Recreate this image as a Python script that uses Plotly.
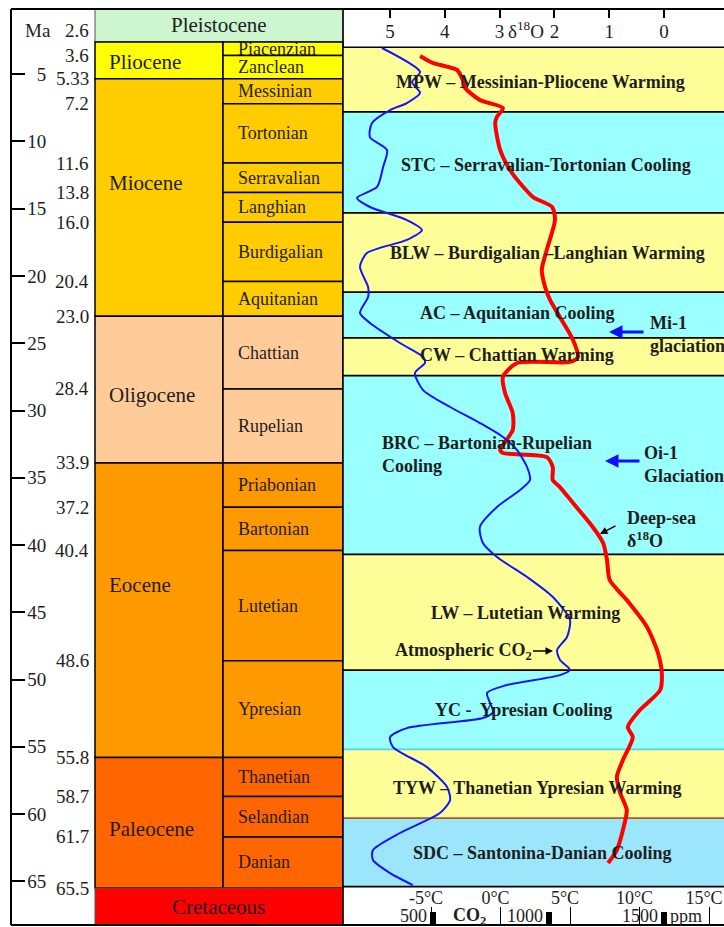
import plotly.graph_objects as go

W, H = 724, 927
SERIF = "Liberation Serif"
INK = "#1e1e1e"

# ---------------- geologic time scale (Ma) ----------------
epoch_names = ["Pliocene", "Miocene", "Oligocene", "Eocene", "Paleocene"]
epoch_top = [2.6, 5.33, 23.0, 33.9, 55.8]
epoch_base = [5.33, 23.0, 33.9, 55.8, 65.5]

stage_names = ["Piacenzian", "Zanclean", "Messinian", "Tortonian", "Serravalian",
               "Langhian", "Burdigalian", "Aquitanian", "Chattian", "Rupelian",
               "Priabonian", "Bartonian", "Lutetian", "Ypresian", "Thanetian",
               "Selandian", "Danian"]
stage_top = [2.6, 3.6, 5.33, 7.2, 11.6, 13.8, 16.0, 20.4, 23.0, 28.4,
             33.9, 37.2, 40.4, 48.6, 55.8, 58.7, 61.7]
stage_base = [3.6, 5.33, 7.2, 11.6, 13.8, 16.0, 20.4, 23.0, 28.4, 33.9,
              37.2, 40.4, 48.6, 55.8, 58.7, 61.7, 65.5]
stage_epoch = (["Pliocene"] * 2 + ["Miocene"] * 6 + ["Oligocene"] * 2
               + ["Eocene"] * 4 + ["Paleocene"] * 3)

pleistocene_base = 2.6
cretaceous_top = 65.5

boundary_labels = ["2.6", "3.6", "5.33", "7.2", "11.6", "13.8", "16.0", "20.4",
                   "23.0", "28.4", "33.9", "37.2", "40.4", "48.6", "55.8",
                   "58.7", "61.7", "65.5"]
ma_ticks = [5, 10, 15, 20, 25, 30, 35, 40, 45, 50, 55, 60, 65]

# ---------------- climate episodes ----------------
band_titles = ["MPW – Messinian-Pliocene Warming",
               "STC – Serravalian-Tortonian Cooling",
               "BLW – Burdigalian –Langhian Warming",
               "AC – Aquitanian Cooling",
               "CW – Chattian Warming",
               "BRC – Bartonian-Rupelian<br>Cooling",
               "LW – Lutetian Warming",
               "YC -  Ypresian Cooling",
               "TYW – Thanetian Ypresian Warming",
               "SDC – Santonina-Danian Cooling"]
band_top = [3.0, 7.8, 15.3, 21.2, 24.6, 27.4, 40.7, 49.3, 55.2, 60.3]
band_base = [7.8, 15.3, 21.2, 24.6, 27.4, 40.7, 49.3, 55.2, 60.3, 65.4]
band_kind = ["warm", "cool", "warm", "cool", "warm", "cool", "warm", "cool", "warm", "cool2"]

# ---------------- proxy curves ----------------
d18o_age = [3.64, 4.16, 4.68, 5.43, 6.02, 6.91, 7.51, 8.18, 8.62, 10.63, 12.12,
            13.09, 14.13, 14.87, 15.84, 18.07, 19.55, 20.82, 21.78, 23.05, 24.76,
            26.02, 26.39, 26.47, 27.51, 28.70, 30.19, 31.45, 32.94, 33.16, 33.46,
            34.20, 35.17, 35.69, 36.88, 38.66, 39.85, 41.12, 42.60, 44.09, 46.10,
            48.03, 49.52, 50.78, 52.27, 53.53, 54.28, 55.99, 57.25, 58.44, 59.70,
            61.19, 62.68, 63.64]
d18o_value = [4.45, 4.22, 3.78, 3.67, 3.63, 3.36, 2.94, 3.05, 3.08, 2.99, 2.81,
              2.63, 2.39, 2.04, 1.99, 2.14, 2.23, 2.17, 2.08, 1.90, 1.66,
              1.57, 1.72, 2.68, 2.94, 2.90, 2.76, 2.76, 2.99, 2.94, 2.14,
              2.03, 2.03, 1.90, 1.66, 1.30, 1.11, 1.04, 0.99, 0.68, 0.31,
              0.11, 0.04, 0.07, 0.44, 0.66, 0.57, 0.75, 0.86, 0.80, 0.68,
              0.75, 0.86, 1.02]

co2_age = [3.05, 4.83, 5.58, 6.39, 7.14, 7.66, 8.62, 9.67, 10.63, 11.90, 13.38,
           14.20, 14.87, 15.84, 16.58, 17.32, 18.29, 19.33, 20.82, 21.56, 22.75,
           23.49, 24.98, 26.02, 26.47, 27.21, 28.48, 29.74, 30.93, 31.97, 32.94,
           34.20, 35.17, 35.91, 37.17, 38.66, 39.85, 40.89, 42.38, 43.87, 45.58,
           46.84, 47.81, 48.55, 49.29, 49.67, 50.41, 51.00, 52.42, 52.86, 53.61,
           54.28, 55.02, 56.51, 58.00, 58.96, 59.93, 61.41, 62.68, 63.42, 64.39,
           65.28]
co2_ppm = [279, 444, 409, 444, 387, 314, 236, 227, 301, 284, 258,
           171, 227, 387, 452, 387, 214, 184, 219, 219, 184,
           227, 357, 457, 465, 422, 457, 574, 703, 803, 864,
           907, 920, 877, 777, 703, 716, 777, 907, 1019, 1093,
           1080, 1037, 1050, 1093, 1050, 820, 734, 760, 716, 387,
           314, 327, 474, 561, 574, 530, 357, 240, 240, 314,
           413]

d18o_ticks = [5, 4, 3, 2, 1, 0]
temp_ticks = [-5, 0, 5, 10, 15]
temp_labels = ["-5°C", "0°C", "5°C", "10°C", "15°C"]
co2_ticks = [500, 1000, 1500]
co2_labels = ["500", "1000", "1500"]

# ---------------- styling ----------------
EPOCH_COLOR = {"Pliocene": "#ffff00", "Miocene": "#ffcc00", "Oligocene": "#ffcc99",
               "Eocene": "#ff9900", "Paleocene": "#ff6600"}
BAND_COLOR = {"warm": "#ffff99", "cool": "#99ffff", "cool2": "#9ce6fb"}
# separator colours, one per band base
BAND_EDGE = ["black"] * 7 + ["#4fd6ee", "#b4562c", "black"]

Y_TOP, Y_BOT = 0.15, 68.25          # visible age range of the column
PLOT_TOP_PX, PLOT_BOT_PX = 9, 925


def fx(px):
    return px / W


def fy(py):
    return (PLOT_BOT_PX - py) / (PLOT_BOT_PX - PLOT_TOP_PX)


def ma_at(py):
    return Y_TOP + (py - PLOT_TOP_PX) * (Y_BOT - Y_TOP) / (PLOT_BOT_PX - PLOT_TOP_PX)


X_AXIS = fx(11)
COL_L, COL_M, COL_R = fx(95), fx(223), fx(343)

fig = go.Figure()

fig.add_trace(go.Scatter(
    x=d18o_value, y=d18o_age, xaxis="x2", yaxis="y", mode="lines",
    line=dict(color="#ff0000", width=4, shape="spline", smoothing=0.7),
    hoverinfo="skip", showlegend=False))
fig.add_trace(go.Scatter(
    x=co2_ppm, y=co2_age, xaxis="x3", yaxis="y", mode="lines",
    line=dict(color="#1414ff", width=2, shape="spline", smoothing=0.7),
    hoverinfo="skip", showlegend=False))
# empty trace so the temperature scale gets its own drawn axis
fig.add_trace(go.Scatter(x=[], y=[], xaxis="x4", yaxis="y", mode="lines",
                         hoverinfo="skip", showlegend=False))

shapes = []


def box(x0, x1, y0, y1, fill, edge="black", width=1.5):
    shapes.append(dict(type="rect", xref="paper", yref="y", x0=x0, x1=x1,
                       y0=y0, y1=y1, fillcolor=fill,
                       line=dict(color=edge, width=width), layer="below"))


# time-scale column
box(COL_L, COL_R, Y_TOP, pleistocene_base, "#ccf5d0", edge="#555", width=1)
for name, t, b in zip(epoch_names, epoch_top, epoch_base):
    box(COL_L, COL_M, t, b, EPOCH_COLOR[name])
for ep, t, b in zip(stage_epoch, stage_top, stage_base):
    box(COL_M, COL_R, t, b, EPOCH_COLOR[ep])
box(COL_L, COL_R, cretaceous_top, Y_BOT, "#ff0000", edge="#555", width=1)

# climate episode bands
for kind, t, b in zip(band_kind, band_top, band_base):
    shapes.append(dict(type="rect", xref="paper", yref="y", x0=COL_R, x1=1.0,
                       y0=t, y1=b, fillcolor=BAND_COLOR[kind],
                       line=dict(width=0), layer="below"))
shapes.append(dict(type="line", xref="paper", yref="y", x0=COL_R, x1=1.0,
                   y0=band_top[0], y1=band_top[0],
                   line=dict(color="black", width=1.5), layer="below"))
for edge, b in zip(BAND_EDGE, band_base):
    shapes.append(dict(type="line", xref="paper", yref="y", x0=COL_R, x1=1.0,
                       y0=b, y1=b, line=dict(color=edge, width=1.8), layer="below"))

# frame
for y in (0, 1):
    shapes.append(dict(type="line", xref="paper", yref="paper", x0=X_AXIS, x1=1.0,
                       y0=y, y1=y, line=dict(color="black", width=2), layer="above"))
shapes.append(dict(type="line", xref="paper", yref="paper", x0=COL_R, x1=COL_R,
                   y0=0, y1=1, line=dict(color="black", width=1.5), layer="above"))

ann = []


def text(x, y, s, size=19, xanchor="center", yref="y", bold=False, align="center", **kw):
    if bold:
        s = "<b>" + s + "</b>"
    ann.append(dict(x=x, y=y, xref="paper", yref=yref, text=s, showarrow=False,
                    xanchor=xanchor, yanchor="middle", align=align,
                    font=dict(family=SERIF, size=size, color=INK), **kw))


# header of the age column
text(fx(38), fy(30), "Ma", yref="paper")
for lab in boundary_labels:
    v = float(lab)
    if lab == "2.6":
        text(fx(91), fy(30), lab, xanchor="right", yref="paper")
    else:
        text(fx(91), v, lab, xanchor="right")

text((COL_L + COL_R) / 2, (Y_TOP + pleistocene_base) / 2, "Pleistocene", size=21)
text((COL_L + COL_R) / 2, (cretaceous_top + Y_BOT) / 2, "Cretaceous", size=21)

epoch_label_y = [62, 183, 395, 585, 829]
for name, py in zip(epoch_names, epoch_label_y):
    text(fx(107), ma_at(py), name, size=21, xanchor="left")

for name, t, b in zip(stage_names, stage_top, stage_base):
    text(fx(236), (t + b) / 2, name, size=18, xanchor="left")

# episode labels
band_label_x = [540, 546, 547, 517, 517, 380, 525, 523, 537, 542]
band_label_y = [82, 165, 253, 313, 355, 454, 613, 710, 788, 853]
for title, px, py in zip(band_titles, band_label_x, band_label_y):
    if "<br>" in title:
        text(fx(px), ma_at(py), title, size=18, xanchor="left", bold=True, align="left")
    else:
        text(fx(px), ma_at(py), title, size=18, bold=True)

# δ18O axis title
text(fx(526), fy(30), "δ<sup>18</sup>O", yref="paper", size=19)

# glaciation markers
text(fx(648), ma_at(334), "Mi-1<br>glaciation", size=18, xanchor="left", bold=True, align="left")
text(fx(642), ma_at(464), "Oi-1<br>Glaciation", size=18, xanchor="left", bold=True, align="left")
for tip_px, py in ((609, 332), (605, 461)):
    ann.append(dict(x=fx(tip_px), y=ma_at(py), xref="paper", yref="y", text="",
                    showarrow=True, ax=36, ay=0, arrowhead=2, arrowsize=0.9,
                    arrowwidth=3, arrowcolor="#1010ff"))

# curve call-outs
text(fx(625), ma_at(529), "Deep-sea<br>δ<sup>18</sup>O", size=18, xanchor="left", bold=True, align="left")
ann.append(dict(x=fx(600), y=ma_at(534), xref="paper", yref="y", text="",
                showarrow=True, ax=17, ay=-9, arrowhead=2, arrowsize=1,
                arrowwidth=1.5, arrowcolor="black"))
ann.append(dict(x=fx(553), y=ma_at(651), xref="paper", yref="y",
                text="<b>Atmospheric CO<sub>2</sub></b>", showarrow=True,
                ax=-90, ay=0, arrowhead=2, arrowsize=1, arrowwidth=1.5,
                arrowcolor="black", standoff=0,
                font=dict(family=SERIF, size=18, color=INK)))

# CO2 scale labels
for v, lab in zip(co2_ticks, co2_labels):
    ann.append(dict(x=v, y=fy(916), xref="x3", yref="paper", text=lab,
                    showarrow=False, xanchor="right", yanchor="middle", xshift=-4,
                    font=dict(family=SERIF, size=18, color=INK)))
text(fx(470), fy(916), "CO<sub>2</sub>", yref="paper", size=18, bold=True)
ann.append(dict(x=co2_ticks[-1], y=fy(916), xref="x3", yref="paper", text="ppm",
                showarrow=False, xanchor="left", yanchor="middle", xshift=4,
                font=dict(family=SERIF, size=18, color=INK)))

tick_font = dict(family=SERIF, size=19, color=INK)

fig.update_layout(
    width=W, height=H,
    margin=dict(l=0, r=0, t=PLOT_TOP_PX, b=H - PLOT_BOT_PX),
    paper_bgcolor="white", plot_bgcolor="rgba(0,0,0,0)",
    showlegend=False,
    shapes=shapes, annotations=ann,
    xaxis=dict(domain=[0, COL_R], range=[0, 1], visible=False, anchor="y"),
    yaxis=dict(range=[Y_BOT, Y_TOP], domain=[0, 1], anchor="free", position=X_AXIS,
               showline=True, linecolor="black", linewidth=2,
               ticks="inside", ticklen=13, tickwidth=1.5, tickcolor="black",
               tickvals=ma_ticks, ticktext=[("\u2007" + str(t)) if t < 10 else str(t) for t in ma_ticks],
               ticklabelposition="inside", ticklabelstandoff=3,
               showgrid=False, zeroline=False, tickfont=tick_font),
    xaxis2=dict(domain=[COL_R, 1], range=[(664 - 343) / 54.8, (664 - 724) / 54.8],
                anchor="y", side="top", ticks="inside", ticklen=9, tickwidth=1.5,
                tickcolor="black", tickvals=d18o_ticks, ticklabelposition="inside",
                ticklabelstandoff=8, showline=False, showgrid=False, zeroline=False,
                tickfont=tick_font),
    xaxis3=dict(overlaying="x2", anchor="y", side="bottom",
                range=[500 - 90 / 0.231, 1500 + 60 / 0.231],
                ticks="inside", ticklen=13, tickwidth=6, tickcolor="black",
                tickvals=co2_ticks, showticklabels=False,
                showline=False, showgrid=False, zeroline=False),
    xaxis4=dict(overlaying="x2", anchor="y", side="bottom",
                range=[-5 - 88 / 13.9, 15 + 15 / 13.9],
                ticks="inside", ticklen=18, tickwidth=1.2, tickcolor="black",
                tickvals=temp_ticks, ticktext=temp_labels,
                ticklabelposition="inside", ticklabelstandoff=0, ticklabelshift=-5,
                showline=False, showgrid=False, zeroline=False,
                tickfont=dict(family=SERIF, size=18, color=INK)),
)

fig.write_html("out.html")
